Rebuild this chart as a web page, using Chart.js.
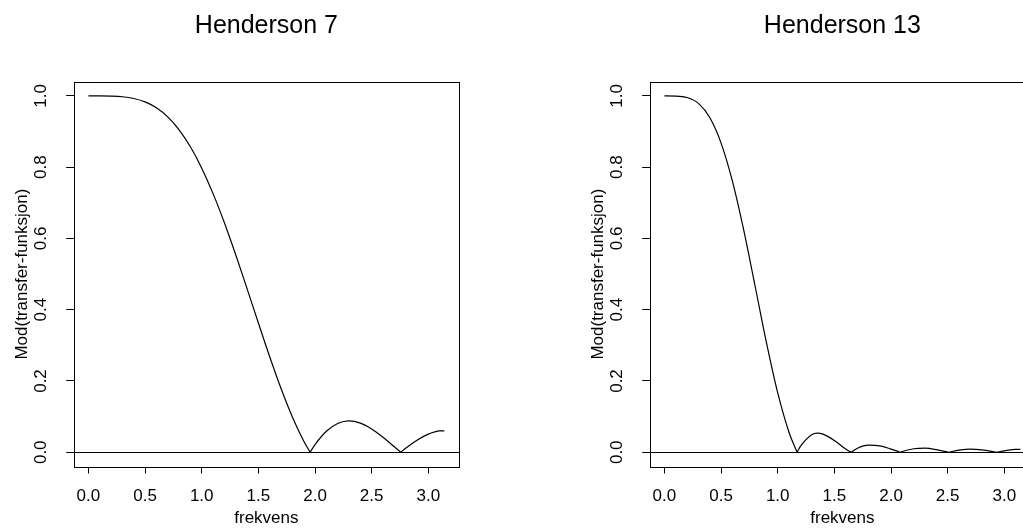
<!DOCTYPE html>
<html>
<head>
<meta charset="utf-8">
<script src="https://cdn.jsdelivr.net/npm/chart.js@4.4.0/dist/chart.umd.min.js"></script>
<style>
  html, body { margin: 0; padding: 0; background: #fff; overflow: hidden; width: 1023px; height: 529px; }
  .panel { position: absolute; top: 0; width: 512px; height: 545px; }
  #h7 { left: 0; }
  #h13 { left: 576px; }
</style>
</head>
<body>
<canvas id="h7" class="panel" width="512" height="545"></canvas>
<canvas id="h13" class="panel" width="512" height="545"></canvas>
<script>
// |transfer function| of the Henderson filters, frequency 0..pi
const freq7 = [0, 0.1, 0.2, 0.3, 0.4, 0.5, 0.6, 0.7, 0.8, 0.9, 1.0, 1.1, 1.2, 1.3, 1.4, 1.5,
  1.6, 1.7, 1.8, 1.9, 1.956, 2.0, 2.1, 2.2, 2.3, 2.4, 2.5, 2.6, 2.7, 2.758, 2.8, 2.9, 3.0, 3.1, 3.1416];
const mod7 = [1.0, 1.0, 0.9995, 0.9977, 0.9929, 0.9833, 0.9667, 0.9412, 0.9050, 0.8573, 0.7974, 0.7259,
  0.6442, 0.5543, 0.4593, 0.3626, 0.2679, 0.1789, 0.0992, 0.0317, 0, 0.0215, 0.0590, 0.0808, 0.0878,
  0.0818, 0.0654, 0.0421, 0.0153, 0, 0.0112, 0.0340, 0.0509, 0.0599, 0.0601];

const freq13 = [0, 0.1, 0.2, 0.3, 0.4, 0.5, 0.6, 0.7, 0.8, 0.9, 1.0, 1.1, 1.171, 1.2, 1.3, 1.35, 1.4,
  1.5, 1.6, 1.646, 1.7, 1.8, 1.9, 2.0, 2.081, 2.1, 2.2, 2.3, 2.4, 2.509, 2.6, 2.7, 2.8, 2.9, 2.935,
  3.0, 3.1, 3.1416];
const mod13 = [1.0, 0.9997, 0.9956, 0.9791, 0.9394, 0.8677, 0.7608, 0.6231, 0.4666, 0.3083, 0.1664,
  0.0555, 0, 0.0164, 0.0494, 0.0534, 0.0509, 0.0331, 0.0090, 0, 0.0106, 0.0198, 0.0180, 0.0089, 0,
  0.0021, 0.0098, 0.0115, 0.0075, 0, 0.0058, 0.0087, 0.0069, 0.0021, 0, 0.0039, 0.0081, 0.0079];

const xTicks = [0, 0.5, 1.0, 1.5, 2.0, 2.5, 3.0];
const yTicks = [0, 0.2, 0.4, 0.6, 0.8, 1.0];
const xRange = [-0.1257, 3.2673];
const yRange = [-0.04, 1.04];

const FONT = "'Liberation Sans', Arial, Helvetica, sans-serif";

// split the curve at its zeros so every lobe keeps a sharp cusp
function lobes(freq, mod) {
  const out = [];
  let cur = [];
  freq.forEach((f, i) => {
    cur.push({x: f, y: mod[i]});
    if (mod[i] === 0 && cur.length > 1) {
      out.push(cur);
      cur = [{x: f, y: 0}];
    }
  });
  if (cur.length > 1) out.push(cur);
  return out;
}

// frame round the plot region + horizontal line at 0
const framePlugin = {
  id: 'frame',
  afterDraw(chart) {
    const {ctx, chartArea: a} = chart;
    const l = Math.round(a.left), t = Math.round(a.top);
    const r = Math.round(a.right), b = Math.round(a.bottom);
    ctx.save();
    ctx.strokeStyle = '#000';
    ctx.lineWidth = 1;
    ctx.strokeRect(l + 0.5, t + 0.5, r - l, b - t);
    const y0 = Math.round(chart.scales.y.getPixelForValue(0)) + 0.5;
    ctx.beginPath();
    ctx.moveTo(l, y0);
    ctx.lineTo(r + 1, y0);
    ctx.stroke();
    ctx.restore();
  }
};

function lagPlott(id, tittel, freq, mod) {
  const datasets = lobes(freq, mod).map(seg => ({
    data: seg,
    borderColor: '#000',
    borderWidth: 1.2,
    pointRadius: 0,
    fill: false,
    cubicInterpolationMode: 'monotone'
  }));

  new Chart(document.getElementById(id), {
    type: 'line',
    data: {datasets},
    plugins: [framePlugin],
    options: {
      responsive: false,
      animation: false,
      events: [],
      layout: {padding: {left: 0, top: 0, right: 53.4, bottom: 0}},
      plugins: {
        legend: {display: false},
        tooltip: {enabled: false},
        title: {
          display: true,
          text: tittel,
          fullSize: false,
          color: '#000',
          font: {family: FONT, size: 25, weight: 'normal'},
          padding: {top: 11, bottom: 40.7}
        }
      },
      scales: {
        x: {
          type: 'linear',
          min: xRange[0],
          max: xRange[1],
          afterBuildTicks: s => { s.ticks = xTicks.map(v => ({value: v})); },
          afterFit: s => { s.height = 78.5; },
          grid: {display: true, drawOnChartArea: false, drawTicks: true, tickLength: 7, color: '#000', lineWidth: 1},
          border: {display: false},
          ticks: {
            color: '#000',
            font: {family: FONT, size: 17},
            padding: 13,
            minRotation: 0,
            maxRotation: 0,
            autoSkip: false,
            callback: v => v.toFixed(1)
          },
          title: {
            display: true,
            text: 'frekvens',
            color: '#000',
            font: {family: FONT, size: 17},
            padding: {top: 0, bottom: 16.5}
          }
        },
        y: {
          type: 'linear',
          min: yRange[0],
          max: yRange[1],
          afterBuildTicks: s => { s.ticks = yTicks.map(v => ({value: v})); },
          afterFit: s => { s.width = 74.2; },
          grid: {display: true, drawOnChartArea: false, drawTicks: true, tickLength: 8, color: '#000', lineWidth: 1},
          border: {display: false},
          ticks: {
            color: '#000',
            font: {family: FONT, size: 17},
            padding: 12.7,
            minRotation: 90,
            maxRotation: 90,
            crossAlign: 'center',
            autoSkip: false,
            callback: v => v.toFixed(1)
          },
          title: {
            display: true,
            text: 'Mod(transfer-funksjon)',
            color: '#000',
            font: {family: FONT, size: 17},
            padding: {top: 12.3, bottom: 0}
          }
        }
      }
    }
  });
}

lagPlott('h7', 'Henderson 7', freq7, mod7);
lagPlott('h13', 'Henderson 13', freq13, mod13);
</script>
</body>
</html>
